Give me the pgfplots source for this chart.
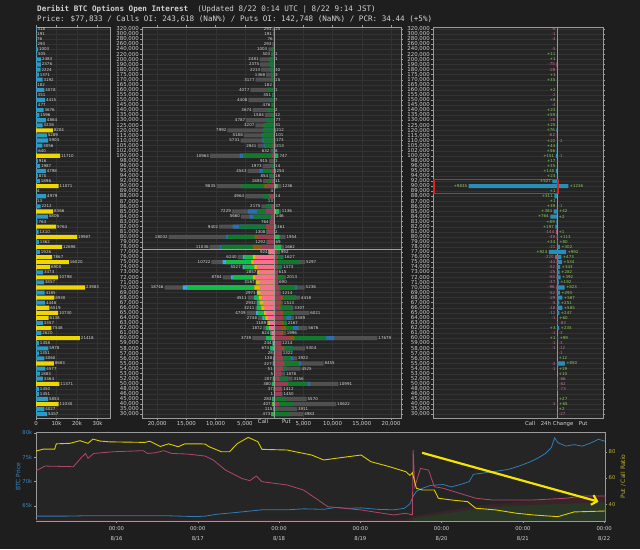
\documentclass[border=0pt]{standalone}
\usepackage{fontspec}
\setmainfont{DejaVu Sans}
\newfontfamily\monof{DejaVu Sans Mono}
\usepackage{pgfplots}
\usepackage{pgfplotstable}
\pgfplotsset{compat=1.18}
\usetikzlibrary{arrows.meta}

\definecolor{bg}{HTML}{1E1E1E}
\definecolor{axbg}{HTML}{252525}
\definecolor{gridc}{HTML}{333333}
\definecolor{framec}{HTML}{9A9A9A}
\definecolor{txt}{HTML}{D2D2D2}
\definecolor{lpblue}{HTML}{2A9BC4}
\definecolor{lpyel}{HTML}{EED600}
\definecolor{maroonc}{HTML}{9E3B55}
\definecolor{pinkc}{HTML}{FF6E8E}
\definecolor{orngc}{HTML}{F2B200}
\definecolor{brnc}{HTML}{8C5A12}
\definecolor{dgreen}{HTML}{137A2C}
\definecolor{bgreen}{HTML}{12BD48}
\definecolor{dblue}{HTML}{2B6FAE}
\definecolor{lblue}{HTML}{3AA6F0}
\definecolor{grayb}{HTML}{505050}
\definecolor{chgpos}{HTML}{2A8DB5}
\definecolor{chgneg}{HTML}{B84A6A}
\definecolor{lblpos}{HTML}{8CCB5A}
\definecolor{lblneg}{HTML}{C8709A}
\definecolor{pcrc}{HTML}{DDCC00}
\definecolor{pcrtxt}{HTML}{BFB030}
\definecolor{btcc}{HTML}{2E7DB5}
\definecolor{btctxt}{HTML}{3A8AC4}
\definecolor{pinkline}{HTML}{B04866}
\definecolor{aream}{HTML}{3A2429}
\definecolor{areag}{HTML}{2A3626}
\definecolor{pricey}{HTML}{BFB000}
\definecolor{arrowy}{HTML}{F5E400}
\definecolor{redbox}{HTML}{E02020}

\newcommand\tickfont{\fontsize{5.4}{6}\selectfont}
\newcommand\valfont{\fontsize{4}{4.5}\selectfont}

\pgfplotsset{
  /pgf/number format/assume math mode=true,
  /pgf/number format/1000 sep={},
  topbase/.style={
    scale only axis, height=391pt, ymin=-0.75, ymax=76.4,
    axis background/.style={fill=axbg},
    axis line style={framec, line width=0.6pt},
    ytick={0,...,76},
    ymajorgrids, grid style={gridc, line width=0.3pt},
    xbar, bar width=0.8, bar shift=0pt,
    nodes near coords align=horizontal,
    tick align=outside, major tick length=2pt,
    tick style={framec, line width=0.4pt},
    ticklabel style={font=\tickfont, text=txt},
    yticklabel style={inner sep=1pt},
    xticklabel style={inner sep=1.5pt},
  },
  strikes/.style={yticklabels={{30,000},{35,000},{40,000},{45,000},{46,000},{48,000},{50,000},{52,000},{53,000},{54,000},{55,000},{56,000},{57,000},{58,000},{59,000},{60,000},{61,000},{62,000},{63,000},{64,000},{65,000},{66,000},{67,000},{68,000},{69,000},{70,000},{71,000},{72,000},{73,000},{74,000},{75,000},{76,000},{77,000},{78,000},{79,000},{80,000},{81,000},{82,000},{83,000},{84,000},{85,000},{86,000},{87,000},{88,000},{89,000},{90,000},{92,000},{94,000},{95,000},{96,000},{98,000},{100,000},{102,000},{105,000},{110,000},{115,000},{120,000},{125,000},{130,000},{135,000},{140,000},{145,000},{150,000},{155,000},{160,000},{165,000},{170,000},{175,000},{180,000},{190,000},{200,000},{220,000},{240,000},{260,000},{280,000},{300,000},{320,000}}},
  seg/.style={fill=#1, draw=none},
  vlabelL/.style={nodes near coords, nodes near coords style={font=\valfont, text=txt, inner sep=0.8pt, anchor=east}, point meta=\thisrow{#1}},
  vlabelR/.style={nodes near coords, nodes near coords style={font=\valfont, text=txt, inner sep=0.8pt, anchor=west}, point meta=\thisrow{#1}},
}

% total OI per strike (row index 0 = 30,000 ... 76 = 320,000)
\pgfplotstableread{
y v
76 318
75 191
74 76
73 293
72 1003
71 505
70 2483
69 2376
68 2224
67 1371
66 3192
65 182
64 4078
63 351
62 4415
61 477
60 3676
59 1596
58 4864
57 3238
56 8204
55 5289
54 5904
53 3056
52 640
51 11710
50 916
49 1987
48 4798
47 870
46 1896
45 11071
44 4
43 4979
42 13
41 2212
40 8366
39 5806
38 764
37 9764
36 1310
35 19987
34 1362
33 12698
32 1926
31 7867
30 16020
29 6900
28 3473
27 10798
26 3857
25 23983
24 4185
23 8930
22 4446
21 6519
20 10730
19 6138
18 3357
17 7548
16 2620
15 21418
14 1458
13 5978
12 1351
11 4060
10 8683
9 4577
8 1883
7 3364
6 11371
5 1450
4 1451
3 5854
2 11030
1 4027
0 5457
}\totT

% calls: cumulative segments near -> far expiry
\pgfplotstableread{
y c1 c2 c3 c4 tot
76 0 0 150 150 293
75 0 0 100 100 191
74 0 0 50 50 76
73 0 0 100 100 293
72 0 0 400 400 1003
71 0 0 300 300 503
70 0 0 800 800 2481
69 0 0 700 700 2375
68 0 0 600 600 2213
67 0 0 500 500 1368
66 0 0 500 500 3177
65 0 0 182 182 182
64 0 0 1200 1200 4077
63 0 0 300 300 351
62 0 0 600 600 4408
61 0 0 400 400 476
60 0 0 1000 1000 3674
59 0 0 400 400 1584
58 100 100 1300 1300 4787
57 100 100 1800 1800 3207
56 150 150 1800 1800 7992
55 200 200 2000 2100 5188
54 200 200 1800 2000 5731
53 250 250 1600 1800 2841
52 100 100 250 250 632
51 340 340 5340 5910 10963
50 100 100 230 230 915
49 150 150 500 500 1973
48 340 340 1940 2510 4543
47 200 200 600 600 854
46 340 340 1250 1250 1885
45 1200 1650 5640 5700 9835
44 4 4 4 4 4
43 800 800 1940 1940 4964
42 13 13 13 13 13
41 500 500 1370 1370 2175
40 1400 1400 2900 4500 7229
39 500 500 3600 4200 5660
38 700 700 764 764 764
37 1370 1370 6000 7100 9402
36 1250 1250 1308 1308 1308
35 2800 3350 7900 8200 18032
34 1100 1100 1292 1292 1292
33 2200 3650 9060 9300 11036
32 924 924 924 924 924
31 3190 3650 5070 5360 6240
30 3500 3900 8200 8800 10722
29 2960 3360 5070 5360 5527
28 2620 2857 2857 2857 2857
27 3190 3650 7070 7350 8784
26 2500 3070 3100 3167 3167
25 2500 3360 14870 15610 18746
24 2300 2900 2971 2971 2971
23 2050 2620 3360 3360 4511
22 1820 2500 2932 2932 2932
21 1650 2200 2960 2960 3211
20 1370 1700 2800 3100 4709
19 1080 1500 1700 2000 2748
18 680 1000 1189 1189 1189
17 700 800 1400 1400 1872
16 400 400 624 624 624
15 400 400 1370 1370 3739
14 150 150 244 244 244
13 100 100 674 674 674
12 28 28 28 28 28
11 50 50 138 138 138
10 50 50 227 227 227
9 20 20 51 51 51
8 5 5 5 5 5
7 50 50 207 207 207
6 50 50 380 380 380
5 37 37 37 37 37
4 1 1 1 1 1
3 0 0 283 283 283
2 200 200 407 407 407
1 0 0 115 115 115
0 0 0 473 473 473
}\callT

% puts: cumulative segments near -> far expiry
\pgfplotstableread{
y p1 p2 p3 p4 tot
76 0 0 25 25 25
71 0 0 1 1 1
70 0 0 1 1 1
68 0 0 10 10 10
67 0 0 3 3 3
66 0 0 15 15 15
64 0 0 1 1 1
62 0 0 7 7 7
60 0 0 2 2 2
59 0 0 12 12 12
58 0 0 77 77 77
57 0 0 31 31 31
56 0 0 212 212 212
55 0 0 101 101 101
54 100 100 173 173 173
53 100 100 213 213 213
52 0 0 8 8 8
51 100 100 600 600 747
50 0 0 1 1 1
49 0 0 14 14 14
48 0 0 254 254 254
47 0 0 16 16 16
46 0 0 11 11 11
45 340 340 600 600 1236
43 0 0 14 14 14
41 0 0 37 37 37
40 100 250 800 800 1136
39 0 0 146 146 146
37 0 0 361 361 361
36 0 0 2 2 2
35 0 0 900 900 1954
34 0 0 69 69 69
33 0 0 1200 1200 1662
32 450 450 900 900 992
31 450 600 1400 1400 1627
30 450 600 4300 4300 5297
29 600 600 1100 1250 1373
28 615 615 615 615 615
27 630 700 1700 1700 2013
26 500 690 690 690 690
25 900 900 3650 3870 5236
24 900 900 900 900 1214
23 1200 1500 3760 3760 4418
22 800 1200 1200 1200 1513
21 900 1100 2900 3000 3307
20 1200 1500 3200 3200 6021
19 1480 1480 2050 2900 3389
18 1300 1600 2167 2167 2167
17 1200 2050 3200 4200 5676
16 1200 1500 1500 1500 1996
15 2620 3480 8890 10300 17679
14 1200 1200 1214 1214 1214
13 1480 1770 3200 3200 5304
12 1200 1200 1200 1322 1322
11 1480 1480 2900 3200 3922
10 1480 1770 4330 4600 8455
9 1480 1480 2100 2100 4525
8 1200 1200 1200 1200 1878
7 900 900 2300 2300 3156
6 2340 2340 5750 6150 10991
5 1200 1200 1200 1300 1412
4 1300 1300 1300 1300 1450
3 0 0 2000 2000 5570
2 800 800 3200 3200 10622
1 0 0 600 600 3911
0 0 0 2600 2600 4983
}\putT

% 24h change
\pgfplotstableread{
y v
71 11
70 1
67 1
66 35
64 2
62 8
60 23
59 59
57 25
56 76
54 22
53 44
52 56
51 151
50 17
49 35
48 140
47 23
46 527
45 9835
44 1
43 311
42 1
41 39
40 384
39 764
38 89
37 197
34 34
32 924
17 3
15 1
}\cposT
\pgfplotstableread{
y v
76 -6
75 -1
74 -4
72 -5
69 -75
68 -28
63 -2
61 -4
58 -28
55 -62
36 -144
35 -49
33 -21
31 -220
30 -44
29 -52
28 -25
27 -60
26 -37
25 -96
24 -52
23 -29
22 -5
21 -18
20 -12
19 -1
16 -1
14 -1
13 -1
10 -2
9 -1
2 -1
}\cnegT
\pgfplotstableread{
y v
45 1236
40 42
39 2
36 1
35 113
34 80
33 302
32 992
31 473
30 534
29 343
28 282
27 392
26 192
25 823
24 293
23 587
22 251
21 585
20 247
19 60
17 235
15 99
11 12
10 850
9 19
8 10
3 27
2 65
1 2
}\pposT
\pgfplotstableread{
y v
54 -2
51 -1
41 -1
18 -83
16 -3
14 -3
13 -12
12 -1
7 -66
6 -62
5 -73
0 -27
}\pnegT

\begin{document}
\begin{tikzpicture}
\fill[bg] (0,0) rectangle (640pt,549pt);
\useasboundingbox (0,0) rectangle (640pt,549pt);

\node[anchor=base west, inner sep=0, text=txt, font=\monof\fontsize{7.6}{8}\selectfont] at (37pt,537pt)
  {\textbf{Deribit BTC Options Open Interest}\ \ (Updated 8/22 0:14 UTC | 8/22 9:14 JST)};
\node[anchor=base west, inner sep=0, text=txt, font=\monof\fontsize{7.6}{8}\selectfont] at (37pt,527.5pt)
  {Price: \$77,833 / Calls OI: 243,618 (NaN\%) / Puts OI: 142,748 (NaN\%) / PCR: 34.44 (+5\%)};

% ---------------- left panel: total OI per strike
\begin{axis}[topbase, at={(36pt,131pt)}, anchor=south west, width=74.5pt,
  xmin=0, xmax=36300, xmajorgrids,
  xtick={0,10000,20000,30000}, xticklabels={0,10k,20k,30k},
  yticklabels={}, ytick style={draw=none}]
\addplot[seg=lpblue, vlabelR=v, restrict x to domain=0:6000] table[x=v,y=y]{\totT};
\addplot[seg=lpyel, vlabelR=v, restrict x to domain=6000:40000] table[x=v,y=y]{\totT};
\end{axis}

% ---------------- middle panel: calls / puts by strike
\begin{axis}[topbase, strikes, at={(142pt,131pt)}, anchor=south west, width=259pt,
  xmin=-22600, xmax=21700, xmajorgrids,
  xtick={-20000,-15000,-10000,-5000,5000,10000,15000,20000},
  xticklabels={{20,000},{15,000},{10,000},{5,000},{5,000},{10,000},{15,000},{20,000}},
  extra x ticks={-1900,2100}, extra x tick labels={Call,Put},
  extra x tick style={grid=none, major tick length=0pt}]
% calls above price (OTM, dark)
\addplot[seg=grayb, vlabelL=tot, restrict y to domain=32.9:80] table[x expr=-\thisrow{tot},y=y]{\callT};
\addplot[seg=dblue, restrict y to domain=32.9:80] table[x expr=-\thisrow{c4},y=y]{\callT};
\addplot[seg=dgreen, restrict y to domain=32.9:80] table[x expr=-\thisrow{c3},y=y]{\callT};
\addplot[seg=brnc, restrict y to domain=32.9:80] table[x expr=-\thisrow{c2},y=y]{\callT};
\addplot[seg=maroonc, restrict y to domain=32.9:80] table[x expr=-\thisrow{c1},y=y]{\callT};
% calls below price (ITM, bright)
\addplot[seg=grayb, vlabelL=tot, restrict y to domain=-1:32.1] table[x expr=-\thisrow{tot},y=y]{\callT};
\addplot[seg=lblue, restrict y to domain=-1:32.1] table[x expr=-\thisrow{c4},y=y]{\callT};
\addplot[seg=bgreen, restrict y to domain=-1:32.1] table[x expr=-\thisrow{c3},y=y]{\callT};
\addplot[seg=orngc, restrict y to domain=-1:32.1] table[x expr=-\thisrow{c2},y=y]{\callT};
\addplot[seg=pinkc, restrict y to domain=-1:32.1] table[x expr=-\thisrow{c1},y=y]{\callT};
% puts above price (ITM, bright)
\addplot[seg=grayb, vlabelR=tot, restrict y to domain=32.9:80] table[x=tot,y=y]{\putT};
\addplot[seg=lblue, restrict y to domain=32.9:80] table[x=p4,y=y]{\putT};
\addplot[seg=bgreen, restrict y to domain=32.9:80] table[x=p3,y=y]{\putT};
\addplot[seg=orngc, restrict y to domain=32.9:80] table[x=p2,y=y]{\putT};
\addplot[seg=pinkc, restrict y to domain=32.9:80] table[x=p1,y=y]{\putT};
% puts below price (OTM, dark)
\addplot[seg=grayb, vlabelR=tot, restrict y to domain=-1:32.1] table[x=tot,y=y]{\putT};
\addplot[seg=dblue, restrict y to domain=-1:32.1] table[x=p4,y=y]{\putT};
\addplot[seg=dgreen, restrict y to domain=-1:32.1] table[x=p3,y=y]{\putT};
\addplot[seg=brnc, restrict y to domain=-1:32.1] table[x=p2,y=y]{\putT};
\addplot[seg=maroonc, restrict y to domain=-1:32.1] table[x=p1,y=y]{\putT};
\draw[framec, line width=0.5pt] (axis cs:0,-0.75) -- (axis cs:0,76.4);
\draw[pricey, line width=0.9pt] (axis cs:-22600,32.6) -- (axis cs:21700,32.6);
\end{axis}

% ---------------- right panel: 24h change
\begin{axis}[topbase, strikes, at={(433pt,131pt)}, anchor=south west, width=170pt,
  xmin=-13800, xmax=5100,
  xtick={-3000,0,2900}, xticklabels={Call,24h Change,Put}, xtick style={draw=none}]
\draw[framec, line width=0.6pt] (axis cs:0,-0.75) -- (axis cs:0,76.4);
\addplot[seg=chgpos, nodes near coords={\pgfmathprintnumber[showpos]{\pgfplotspointmeta}},
  nodes near coords style={font=\valfont, text=lblpos, inner sep=0.5pt, anchor=east, xshift=-0.8pt}, point meta=\thisrow{v}]
  table[x expr=-abs(\thisrow{v}),y=y]{\cposT};
\addplot[seg=chgneg, nodes near coords,
  nodes near coords style={font=\valfont, text=lblneg, inner sep=0.5pt, anchor=east, xshift=-0.8pt}, point meta=\thisrow{v}]
  table[x expr=-abs(\thisrow{v}),y=y]{\cnegT};
\addplot[seg=chgpos, nodes near coords={\pgfmathprintnumber[showpos]{\pgfplotspointmeta}},
  nodes near coords style={font=\valfont, text=lblpos, inner sep=0.5pt, anchor=west, xshift=0.8pt}, point meta=\thisrow{v}]
  table[x expr=abs(\thisrow{v}),y=y]{\pposT};
\addplot[seg=chgneg, nodes near coords,
  nodes near coords style={font=\valfont, text=lblneg, inner sep=0.5pt, anchor=west, xshift=0.8pt}, point meta=\thisrow{v}]
  table[x expr=abs(\thisrow{v}),y=y]{\pnegT};
\draw[redbox, line width=1.4pt] (axis cs:-13700,43.5) rectangle (axis cs:100,46.3);
\end{axis}

% ---------------- bottom: BTC price and put/call ratio
\begin{axis}[at={(36pt,28pt)}, anchor=south west, scale only axis, width=569pt, height=89pt,
  xmin=0.01, xmax=7.01, ymin=61.9, ymax=80.2,
  axis background/.style={fill=axbg},
  axis line style={framec, line width=0.6pt},
  tick align=outside, major tick length=2pt, tick style={framec, line width=0.4pt},
  xtick pos=bottom, ytick pos=left,
  xtick={1,2,3,4,5,6,7},
  xticklabels={{00:00\\8/16},{00:00\\8/17},{00:00\\8/18},{00:00\\8/19},{00:00\\8/20},{00:00\\8/21},{00:00\\8/22}},
  xticklabel style={align=center, font=\fontsize{5.3}{10}\selectfont, text=txt},
  ytick={65,70,75,80}, yticklabels={65k,70k,75k,80k},
  yticklabel style={font=\fontsize{5.3}{6}\selectfont, text=btctxt, inner sep=1.5pt},
  ylabel={BTC Price}, ylabel style={font=\fontsize{6}{7}\selectfont, text=btctxt, yshift=-3pt}]
\addplot[btcc, line width=0.8pt] coordinates {(0.015,62.9)(0.37,62.9)(0.7,63.0)(1.08,63.0)(1.58,63.0)(1.98,62.8)(2.09,62.9)(2.24,63.3)(2.44,63.6)(2.79,64.2)(3.10,64.2)(3.30,64.4)(3.55,64.3)(3.70,64.7)(3.85,64.5)(4.01,64.6)(4.21,64.3)(4.41,64.2)(4.54,64.5)(4.61,65.4)(4.65,67.0)(4.69,68.0)(4.76,68.6)(4.86,69.2)(5.02,69.4)(5.12,68.9)(5.27,69.6)(5.34,70.0)(5.39,71.5)(5.62,72.0)(5.82,72.5)(5.97,73.3)(6.08,74.0)(6.18,74.8)(6.28,75.8)(6.35,77.0)(6.39,79.0)(6.43,78.0)(6.53,77.3)(6.63,77.6)(6.73,77.3)(6.83,77.9)(6.93,78.7)(7.01,78.3)};
\end{axis}
\begin{axis}[at={(36pt,28pt)}, anchor=south west, scale only axis, width=569pt, height=89pt,
  xmin=0.01, xmax=7.01, ymin=27.3, ymax=95,
  axis x line=none, axis y line*=right,
  axis line style={framec, line width=0.6pt},
  tick align=outside, major tick length=2pt, tick style={framec, line width=0.4pt},
  ytick={40,60,80},
  yticklabel style={font=\fontsize{5.3}{6}\selectfont, text=pcrtxt, inner sep=1.5pt},
  ylabel={Put / Call Ratio}, ylabel style={font=\fontsize{6}{7}\selectfont, text=pcrtxt}]
\addplot[fill=aream, draw=none] coordinates {(0.01,28.3)(4.55,28.3)(4.7,31.5)(5.0,34.5)(5.5,39.5)(6.0,42)(6.5,44.5)(7.01,46.5)} \closedcycle;
\addplot[fill=areag, draw=none] coordinates {(4.6,27.3)(4.7,30)(5.1,33.5)(5.6,38)(6.1,39.5)(6.6,40.5)(7.01,41.5)} \closedcycle;
\addplot[pinkline, line width=0.8pt] coordinates {(0.015,65.6)(0.12,69.1)(0.47,68.6)(0.57,75.7)(0.62,78.7)(0.65,75)(0.72,78.7)(0.97,80)(1.33,80.8)(1.38,78.7)(1.48,79.2)(1.58,80.8)(1.68,78.7)(1.88,78.2)(2.09,76.7)(2.19,73.7)(2.34,66.1)(2.54,59.7)(2.64,58)(2.72,61.5)(2.79,57.2)(3.10,54.7)(3.30,50.9)(3.45,44.6)(3.60,38.2)(4.01,35.7)(4.41,31.9)(4.56,33.2)(4.64,31.9)(4.65,81.3)(4.67,53.4)(4.74,67.3)(4.84,66)(4.91,53.4)(5.02,52.2)(5.22,48.4)(5.42,44.6)(5.62,43.3)(6.13,43.3)(6.53,44.6)(6.73,46.3)(7.01,46.3)};
\addplot[pcrc, line width=0.9pt] coordinates {(0.01,80.5)(0.10,82)(0.24,82)(0.26,86)(0.43,86.4)(0.55,88.4)(0.65,86.4)(0.71,89.6)(0.80,88.1)(0.92,87.5)(1.35,87.1)(1.41,88)(1.54,84)(1.64,86)(1.76,83.8)(1.84,86)(2.03,86)(2.09,85.8)(2.14,83.8)(2.29,80)(2.39,80)(2.49,86.3)(2.62,90.9)(2.74,87.6)(2.79,81.8)(3.10,81.3)(3.20,80)(3.40,77.5)(3.55,73.7)(3.70,75)(4.01,77.5)(4.13,72.4)(4.36,68.6)(4.56,64.8)(4.61,62)(4.64,64)(4.69,52.2)(4.76,50.9)(4.91,50.9)(4.96,44.6)(5.12,43.3)(5.32,42)(5.42,37)(5.67,35.7)(5.92,33.2)(6.13,31.9)(6.43,30.6)(6.63,34.2)(7.01,34.9)};
\draw[arrowy, line width=2.2pt, -{Straight Barb[length=5pt,width=10pt]}] (axis cs:4.76,79.2) -- (axis cs:6.93,42);
\end{axis}
\end{tikzpicture}
\end{document}
